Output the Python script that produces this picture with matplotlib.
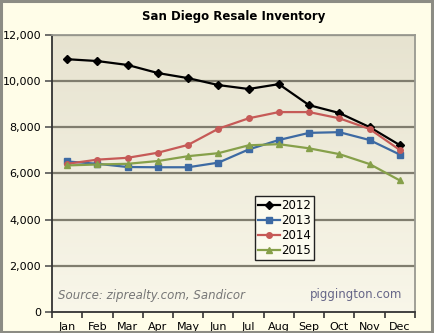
import matplotlib

matplotlib.use("Agg")
import matplotlib.pyplot as plt
import numpy as np
from matplotlib.patches import Rectangle

months = ["Jan", "Feb", "Mar", "Apr", "May", "Jun",
          "Jul", "Aug", "Sep", "Oct", "Nov", "Dec"]
inv_2012 = [10950, 10870, 10700, 10350, 10130, 9830, 9660, 9870, 8960, 8620, 8010, 7230]
inv_2013 = [6520, 6420, 6280, 6270, 6270, 6470, 7040, 7450, 7760, 7790, 7450, 6820]
inv_2014 = [6420, 6600, 6680, 6900, 7240, 7940, 8390, 8660, 8660, 8390, 7930, 7020]
inv_2015 = [6350, 6390, 6420, 6540, 6750, 6880, 7220, 7270, 7090, 6840, 6410, 5700]

series = [
    ("2012", inv_2012, "#000000", "D", 3.8),
    ("2013", inv_2013, "#3d6aa3", "s", 3.8),
    ("2014", inv_2014, "#c65a57", "o", 4.0),
    ("2015", inv_2015, "#86a04a", "^", 4.4),
]

plt.rcParams["font.family"] = ["DejaVu Sans"]

fig = plt.figure(figsize=(4.34, 3.33), dpi=100, facecolor="#fffde8")
# outer frame
fig.patches.append(Rectangle((0.002, 0.004), 0.994, 0.992, transform=fig.transFigure,
                             fill=False, edgecolor="#8c8c84", linewidth=2.2))

ax = fig.add_axes([0.120, 0.063, 0.836, 0.832])
x = np.arange(len(months))
ax.set_xlim(-0.5, len(months) - 0.5)
ax.set_ylim(0, 12000)

# plot-area gradient, darker khaki at the top
grad = np.linspace(0, 1, 256).reshape(-1, 1)
top = np.array([0.905, 0.890, 0.815])
bottom = np.array([0.975, 0.967, 0.915])
img = bottom + (top - bottom) * grad
ax.imshow(img[:, None, :].repeat(2, axis=1), extent=[-0.5, 11.5, 0, 12000],
          origin="lower", aspect="auto", zorder=0)

for yv in range(2000, 12001, 2000):
    ax.axhline(yv, color="#807d6e", linewidth=1.6, zorder=1)

for label, vals, color, marker, ms in series:
    ax.plot(x, vals, color=color, marker=marker, markersize=ms, linewidth=1.6,
            label=label, zorder=3)

ax.set_yticks(range(0, 12001, 2000))
ax.set_yticklabels([f"{v:,}" for v in range(0, 12001, 2000)], fontsize=8)
ax.set_xticks(x)
ax.set_xticklabels(months, fontsize=8)
ax.set_xticks(np.arange(-0.5, 12, 1), minor=True)
ax.tick_params(axis="x", which="major", length=0, pad=7)
ax.tick_params(axis="x", which="minor", length=4, width=1.2, color="#333333")
ax.tick_params(axis="y", length=5, width=1.2, color="#555555", pad=3)
for side in ["left", "bottom"]:
    ax.spines[side].set_color("#333333")
    ax.spines[side].set_linewidth(1.3)
for side in ["top", "right"]:
    ax.spines[side].set_color("#999990")
    ax.spines[side].set_linewidth(1.3)

ax.set_title("San Diego Resale Inventory", fontsize=8.5, fontweight="bold", pad=11)

leg = ax.legend(loc="upper left", bbox_to_anchor=(0.559, 0.419), fontsize=8.5,
                frameon=True, fancybox=False, borderpad=0.3, labelspacing=0.15,
                handlelength=1.8, handletextpad=0.1, borderaxespad=0)
leg.get_frame().set_edgecolor("#222222")
leg.get_frame().set_facecolor("#fbfaee")
leg.get_frame().set_alpha(1)
leg.get_frame().set_linewidth(1.0)

ax.text(0.015, 0.035, "Source: ziprealty.com, Sandicor", transform=ax.transAxes,
        fontsize=8.5, style="italic", color="#777777", ha="left", va="bottom")
ax.text(0.965, 0.04, "piggington.com", transform=ax.transAxes,
        fontsize=8.5, color="#666688", ha="right", va="bottom")

fig.savefig("out.png", dpi=100, facecolor=fig.get_facecolor())
